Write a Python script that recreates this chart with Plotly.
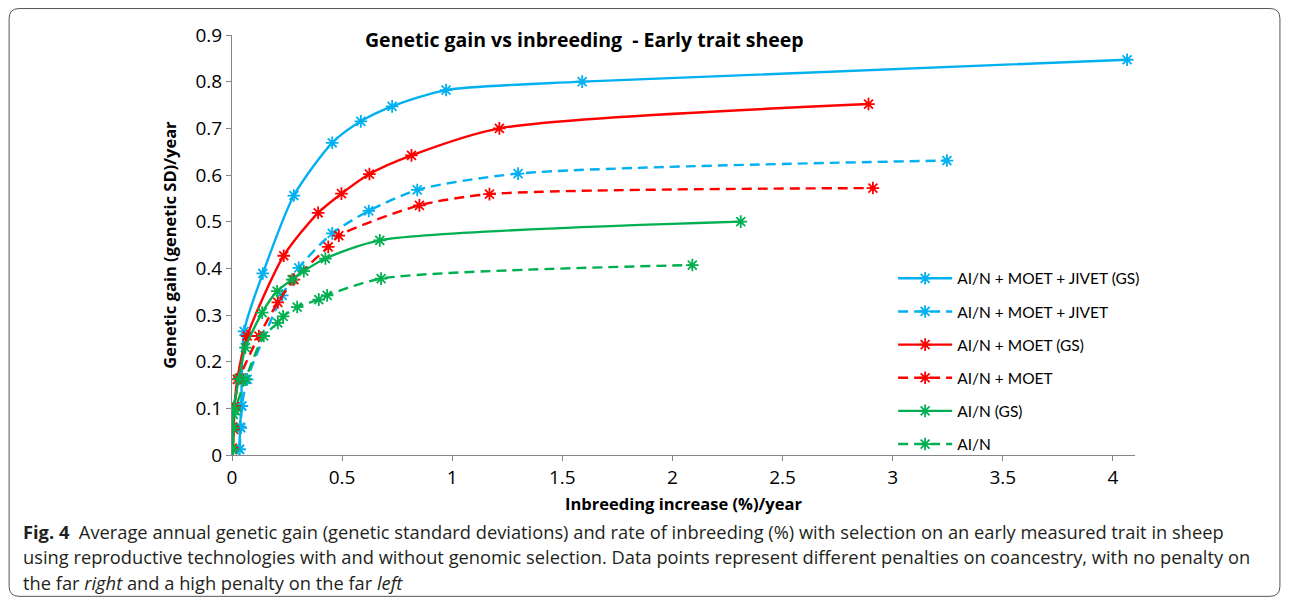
import plotly.graph_objects as go

# ---- data ----
names = ["AI/N + MOET + JIVET (GS)", "AI/N + MOET + JIVET", "AI/N + MOET (GS)",
         "AI/N + MOET", "AI/N (GS)", "AI/N"]
colors = ["#00B0F0", "#00B0F0", "#FF0000", "#FF0000", "#00B050", "#00B050"]
dashes = ["solid", "10px,6px", "solid", "10px,6px", "solid", "10px,6px"]

jivet_gs_x = [0.033, 0.037, 0.042, 0.055, 0.140, 0.281, 0.455, 0.585, 0.727, 0.972, 1.590, 4.064]
jivet_gs_y = [0.012, 0.060, 0.105, 0.265, 0.389, 0.556, 0.669, 0.715, 0.747, 0.782, 0.800, 0.847]

jivet_x = [0.035, 0.040, 0.045, 0.069, 0.228, 0.303, 0.455, 0.621, 0.841, 1.299, 3.246]
jivet_y = [0.012, 0.058, 0.105, 0.162, 0.342, 0.401, 0.475, 0.523, 0.568, 0.603, 0.631]

moet_gs_x = [0.004, 0.008, 0.012, 0.024, 0.069, 0.235, 0.391, 0.497, 0.624, 0.815, 1.214, 2.890]
moet_gs_y = [0.012, 0.055, 0.105, 0.162, 0.255, 0.427, 0.519, 0.560, 0.602, 0.642, 0.700, 0.752]

moet_x = [0.002, 0.004, 0.008, 0.035, 0.122, 0.208, 0.281, 0.437, 0.485, 0.851, 1.169, 2.910]
moet_y = [0.015, 0.060, 0.098, 0.165, 0.255, 0.327, 0.376, 0.446, 0.470, 0.535, 0.559, 0.572]

ain_gs_x = [0.004, 0.006, 0.008, 0.031, 0.061, 0.137, 0.205, 0.273, 0.326, 0.424, 0.671, 2.310]
ain_gs_y = [0.012, 0.087, 0.101, 0.163, 0.230, 0.305, 0.351, 0.376, 0.394, 0.421, 0.460, 0.500]

ain_x = [0.004, 0.008, 0.015, 0.061, 0.144, 0.208, 0.232, 0.296, 0.394, 0.432, 0.677, 2.090]
ain_y = [0.012, 0.058, 0.095, 0.162, 0.255, 0.283, 0.297, 0.317, 0.333, 0.342, 0.378, 0.407]

series_x = [jivet_gs_x, jivet_x, moet_gs_x, moet_x, ain_gs_x, ain_x]
series_y = [jivet_gs_y, jivet_y, moet_gs_y, moet_y, ain_gs_y, ain_y]

x_ticks = [0, 0.5, 1, 1.5, 2, 2.5, 3, 3.5, 4]
x_tick_labels = ["0", "0.5", "1", "1.5", "2", "2.5", "3", "3.5", "4"]
y_ticks = [0, 0.1, 0.2, 0.3, 0.4, 0.5, 0.6, 0.7, 0.8, 0.9]
y_tick_labels = ["0", "0.1", "0.2", "0.3", "0.4", "0.5", "0.6", "0.7", "0.8", "0.9"]

title_text = "Genetic gain vs inbreeding  - Early trait sheep"
x_title = "Inbreeding increase (%)/year"
y_title = "Genetic gain (genetic SD)/year"
caption_lines = [
    "<b>Fig. 4</b>  Average annual genetic gain (genetic standard deviations) and rate of inbreeding (%) with selection on an early measured trait in sheep",
    "using reproductive technologies with and without genomic selection. Data points represent different penalties on coancestry, with no penalty on",
    "the far <i>right</i> and a high penalty on the far <i>left</i>",
]

# ---- layout geometry (reference pixels; the page body adds an 8px offset) ----
OFF = 8
W, H = 1289 - OFF - 8, 606 - OFF - 8
L, R, T, B = 231.5, 1135, 35, 455.5
FONT = "Open Sans"


def px2paper(px, py):
    return (px - L) / (R - L), (B - py) / (B - T)


fig = go.Figure()
for i in range(6):
    fig.add_trace(go.Scatter(
        x=series_x[i], y=series_y[i], name=names[i], mode="lines+markers",
        line=dict(color=colors[i], width=2.4, dash=dashes[i], shape="spline", smoothing=0.7),
        marker=dict(symbol="asterisk-open", size=10.5, color=colors[i],
                    line=dict(color=colors[i], width=1.8)),
        legendgroup=f"g{i}",
    ))

# rounded border around figure + caption
x0, y0, x1, y1, r = 8.5, 8.5, 1280, 597, 10
def P(x, y):
    a, b = px2paper(x, y)
    return f"{a:.5f},{b:.5f}"
path = (f"M {P(x0 + r, y0)} L {P(x1 - r, y0)} Q {P(x1, y0)} {P(x1, y0 + r)} "
        f"L {P(x1, y1 - r)} Q {P(x1, y1)} {P(x1 - r, y1)} "
        f"L {P(x0 + r, y1)} Q {P(x0, y1)} {P(x0, y1 - r)} "
        f"L {P(x0, y0 + r)} Q {P(x0, y0)} {P(x0 + r, y0)} Z")
fig.add_shape(type="path", path=path, xref="paper", yref="paper",
              line=dict(color="#555555", width=1))

annotations = []
tx, ty = px2paper(584, 40)
annotations.append(dict(text=f"<b>{title_text}</b>", x=tx, y=ty, xref="paper", yref="paper",
                        showarrow=False, xanchor="center", yanchor="middle",
                        font=dict(family=FONT, size=19.5, color="#000000")))
for k, line in enumerate(caption_lines):
    cx, cy = px2paper(21, 532 + k * 25.5)
    annotations.append(dict(text=line, x=cx, y=cy, xref="paper", yref="paper",
                            showarrow=False, xanchor="left", yanchor="middle",
                            borderpad=0,
                            font=dict(family=FONT, size=18.3, color="#231F20")))
fig.update_layout(annotations=annotations)

lx, ly = px2paper(893, 262)
fig.update_layout(
    width=W, height=H,
    margin=dict(l=L - OFF, r=W - (R - OFF), t=T - OFF, b=H - (B - OFF), pad=0),
    paper_bgcolor="white", plot_bgcolor="white",
    showlegend=True,
    legend=dict(x=lx, y=ly, xanchor="left", yanchor="top",
                font=dict(family="Lato", size=15.5, color="#000000"),
                tracegroupgap=10, bgcolor="rgba(0,0,0,0)", itemwidth=54),
    xaxis=dict(range=[0, 4.1], tickvals=x_ticks, ticktext=x_tick_labels,
               showgrid=False, zeroline=False, showline=True, linecolor="#868686",
               linewidth=1, ticks="outside", ticklen=5, tickcolor="#868686",
               tickfont=dict(family=FONT, size=19, color="#000000"),
               title=dict(text=f"<b>{x_title}</b>", standoff=9,
                          font=dict(family=FONT, size=16.5, color="#000000"))),
    yaxis=dict(range=[0, 0.9], tickvals=y_ticks, ticktext=y_tick_labels,
               showgrid=False, zeroline=False, showline=True, linecolor="#868686",
               linewidth=1, ticks="outside", ticklen=5, tickcolor="#868686",
               tickfont=dict(family=FONT, size=19, color="#000000"),
               title=dict(text=f"<b>{y_title}</b>", standoff=14,
                          font=dict(family=FONT, size=16.5, color="#000000"))),
)

fig.write_html("out.html")
